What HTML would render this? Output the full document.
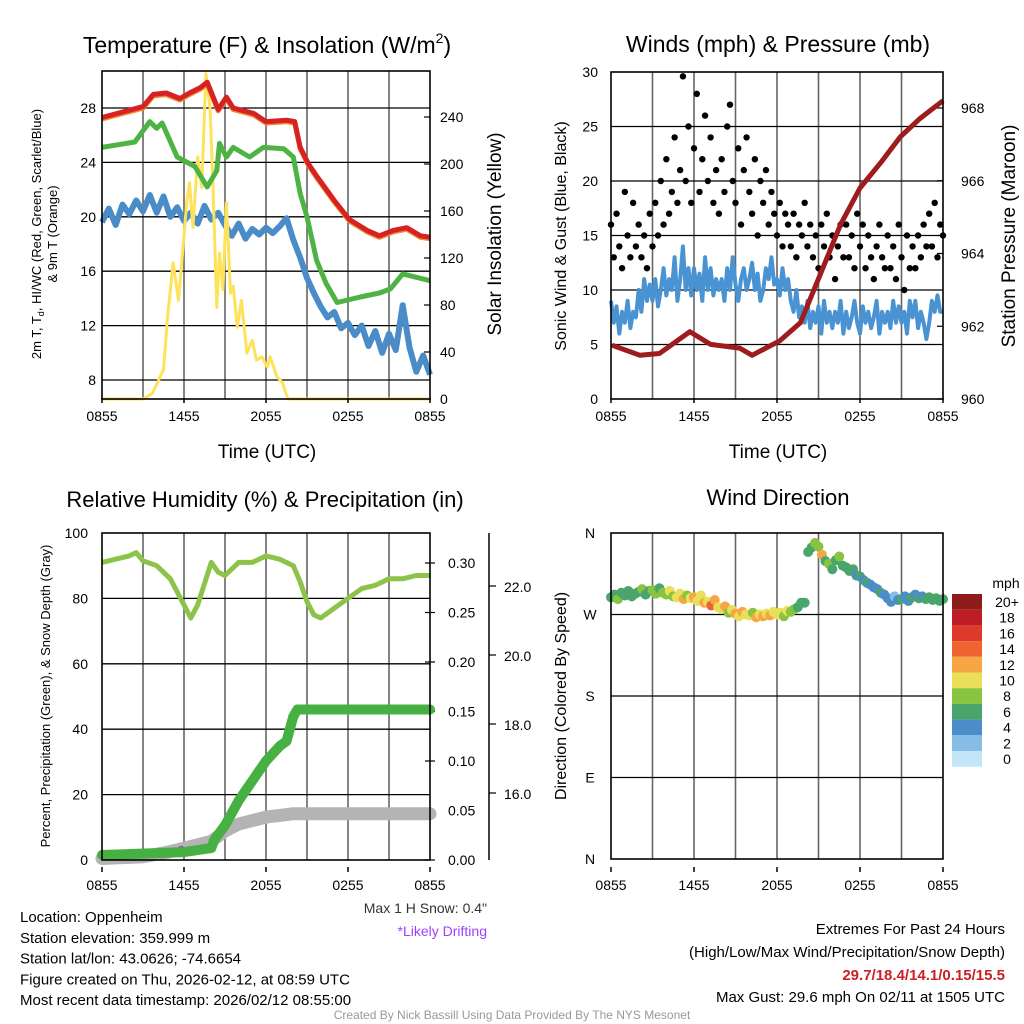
<!DOCTYPE html>
<html><head><meta charset="utf-8"><style>
body{margin:0;background:#fff;}
svg{display:block;font-family:"Liberation Sans",sans-serif;}
</style></head><body>
<svg id="c" width="1024" height="1024" viewBox="0 0 1024 1024"></svg>
<script>
// ---------- DATA ----------
const xTickLabels = ["0855","1455","2055","0255","0855"];
const tempTicks = [8,12,16,20,24,28];
const insolTicks = [0,40,80,120,160,200,240];
const windTicks = [0,5,10,15,20,25,30];
const presTicks = [960,962,964,966,968];
const rhTicks = [0,20,40,60,80,100];
const precipTicks = [0,0.05,0.10,0.15,0.20,0.25,0.30];
const snowTicks = [16,18,20,22];
const dirTicks = ["N","E","S","W","N"];

const redT = [0,3,3.75,4.7,5.7,6.4,7.2,7.7,8.5,9.1,9.6,11.1,12,13.5,14.1,14.5,15.1,15.7,17,18.1,19.4,20.3,21.3,22.3,23.3,24];
const redV = [27.3,28.1,29.0,29.1,28.7,29.1,29.5,29.9,27.9,28.8,28.0,27.6,27.0,27.1,27.0,25.1,23.9,23.0,21.2,19.8,19.0,18.6,19.0,19.2,18.6,18.5];
const greenT = [0,2.4,3.5,4.0,4.4,5.5,6.8,7.7,8.4,8.6,9.1,9.6,10.8,11.8,13.3,14,14.5,15,15.7,16.4,17.2,18.9,20.3,21.1,22,24];
const greenV = [25.1,25.5,27.0,26.5,26.9,24.4,23.7,22.2,23.4,25.4,24.4,25.1,24.4,25.1,25.0,24.4,21.7,20.0,16.8,15.1,13.7,14.1,14.4,14.7,15.8,15.3];
const blueV = [19.6,20.6,19.4,20.9,20.2,21.2,20.4,21.6,20.3,21.5,20.0,20.7,19.7,20.3,19.5,20.8,19.8,20.3,19.4,18.6,19.5,18.4,19.1,18.7,19.2,18.8,19.3,19.9,18.3,17.0,15.5,14.4,13.4,12.6,13.0,11.8,12.2,11.3,12.0,10.5,11.6,10.0,11.4,10.2,13.5,10.4,8.6,9.8,8.4];
const insT = [0,3.0,3.7,4.5,4.8,5.2,5.6,5.85,6.2,6.4,6.65,7.0,7.3,7.6,7.9,8.1,8.4,8.6,8.85,9.1,9.4,9.6,9.9,10.2,10.6,11.0,11.3,11.7,12.1,12.3,12.8,13.2,13.6,24];
const insV = [0,0,5,25,70,116,84,118,167,184,146,206,180,277,248,189,78,124,93,167,90,96,61,84,39,50,33,36,27,36,19,14,0,0];

const gustV = [16,13,17,14,12, 19,15,13,18,14, 16,13,15,12,17, 14,18,15,20,16, 22,17,19,24,18, 21,29.6,20,25,18, 23,28,19,22,26, 20,24,18,21,17, 22,19,25,27,20, 18,23,16,21,24, 19,17,22,15,20, 18,21,16,19,17, 15,18,14,17,16, 14,17,13,16,15, 18,14,16,13,15, 12,16,14,17,13, 15,11,14,16,13, 16,13,15,12,17, 14,16,12,15,13, 11,14,16,13,12, 15,12,14,11,16, 13,10,15,12,14, 12,15,13,16,14, 17,14,18,13,16, 15];
const windV = [9,7,8.5,6,8, 7,9,6.5,8,7.5, 10,8,11,9,10.5, 9,11,8.5,10,12, 9.5,11,10,13,9, 11,14,10,12,9.5, 12,10,11.5,9,13, 10,12,9.5,11,10, 11,9,12,10,13, 10.5,9,11,12,10, 11,12.5,10,11.5,9, 10,12,11,13,10.5, 11,9.5,12,10,11, 9,8,10,7.5,8.5, 7,9,6.5,8,7, 8.5,6,9,7,8, 6.5,8,7,9,6, 8,6.5,7.5,9,7, 6,8.5,7,8,6.5, 7.5,9,6,8,7, 8,6.5,9,7,8.5, 7,8,6,9,7.5, 9,6.5,8,7,5.5, 7,9,8,9.5,8, 8];
const presT = [0.07,2.1,3.5,5.7,7.2,9.3,10.2,12.2,13.7,15.1,16.6,18,19.5,20.9,22.3,24];
const presV = [961.48,961.2,961.25,961.85,961.5,961.4,961.2,961.6,962.1,963.4,964.8,965.8,966.5,967.2,967.7,968.2];

const rhT = [0,1,2,2.5,3,4,5,6,6.5,7,8,8.5,9,10,11,12,13,14,14.5,15,15.5,16,17,18,19,20,21,22,23,24];
const rhV = [91,92,93,94,91.5,90,86,78,74,78,91,88,87,91,91,93,92,90,85,79,75,74,77,80,83,84,86,86,87,87];
const prT = [0,6,8,8.2,9,10,11,12,13,13.5,14,14.3,24];
const prV = [0.005,0.008,0.012,0.02,0.035,0.06,0.08,0.10,0.115,0.12,0.145,0.152,0.152];
const snT = [0,3,5,6.5,8,9,10,11,12,13,14,24];
const snV = [14.1,14.15,14.3,14.45,14.6,14.9,15.1,15.2,15.3,15.35,15.4,15.4];

const dirV = [289,292,287,294, 291,296,290,293, 295,298,292,296, 297,293,299,294, 292,296,290,289, 293,287,291,288, 289,285,291,283, 284,280,286,278, 276,279,272,275, 271,268,273,270, 269,272,267,270, 268,271,269,273, 270,272,268,274, 273,276,278,283, 283,339,344,349, 345,336,329,326, 320,330,334,324, 322,318,320,313, 312,308,305,303, 300,298,294,292, 288,284,290,286, 287,290,285,289, 292,288,290,287, 289,286,288,285, 287];
const spdV = [7,6.5,8,7, 6,7,7.5,6.5, 7,8,6,7.5, 8,9,7,8.5, 9.5,10,9,11, 10,12,9.5,11, 12,10.5,11,13, 11,14,12,10, 10,12,9.5,11, 12,10,13,11, 11,9.5,12,10.5, 13,11,12,10, 11,10,9.5,10, 9,8.5,7.5,7, 7,6,7.5,8.5, 9,12,7,8, 7.5,6.5,8,7, 6,7,6.5,5.5, 6,5.5,6,5, 5.5,5,6,5.5, 4,5,3.5,5.5, 6,5,4,6, 5,6.5,4.5,7, 7,6.5,7.5,7, 7];
const cbLabels = ["20+","18","16","14","12","10","8","6","4","2","0"];
const cbColors = ["#8e1a1c","#bd1e26","#dd3a2c","#ee6330","#f7a644","#e9df59","#88c440","#4aa56c","#4a8dc8","#86bde6","#c2e5f8"];

// ---------- HELPERS ----------
const svg = document.getElementById('c');
const NS = 'http://www.w3.org/2000/svg';
function mk(tag, attrs, parent){const e=document.createElementNS(NS,tag);for(const k in attrs)e.setAttribute(k,attrs[k]);(parent||svg).appendChild(e);return e;}
function txt(s,x,y,size,anchor,parent,extra){const e=mk('text',Object.assign({x:x,y:y,'font-size':size,'text-anchor':anchor||'middle',fill:'#000'},extra||{}),parent);e.textContent=s;return e;}
function lin(d0,d1,r0,r1){return v=>r0+(v-d0)*(r1-r0)/(d1-d0);}
function pathOf(ts,vs,xs,ys){return ts.map((t,i)=>(i?'L':'M')+xs(t).toFixed(1)+','+ys(vs[i]).toFixed(1)).join('');}

function frame(g,x0,x1,y0,y1,hLines){
  for(let h=3;h<24;h+=3){const x=lin(0,24,x0,x1)(h);const l=mk('line',{x1:x,x2:x,y1:y0,y2:y1,stroke:'#666','stroke-width':1.6},g);}
  hLines.forEach(y=>{const l=mk('line',{x1:x0,x2:x1,y1:y,y2:y,stroke:'#000','stroke-width':1.3},g);});
}
function border(g,x0,x1,y0,y1){const r=mk('rect',{x:x0,y:y0,width:x1-x0,height:y1-y0,fill:'none',stroke:'#000','stroke-width':1.6},g);}
function xLabels(g,x0,x1,y){const xs=lin(0,24,x0,x1);xTickLabels.forEach((s,i)=>{const t=txt(s,xs(i*6),y,14,'middle',g);
 mk('line',{x1:xs(i*6),x2:xs(i*6),y1:y-18,y2:y-23,stroke:'#000','stroke-width':1.5},g);});}
function group(name){const g=mk('g',{});return g;}

// ---------- PANEL 1 ----------
(function(){
 const g=group('temperature-panel');
 const x0=102,x1=430,y0=71,y1=399;
 const xs=lin(0,24,x0,x1), yT=lin(8,28,380,108), yI=lin(0,240,399,117);
 frame(g,x0,x1,y0,y1,tempTicks.map(yT));
 tempTicks.forEach(v=>{const t=txt(String(v),96,yT(v)+5,14,'end',g);});
 insolTicks.forEach(v=>{const t=txt(String(v),440,yI(v)+5,14,'start',g);
   mk('line',{x1:x1,x2:x1-6,y1:yI(v),y2:yI(v),stroke:'#000','stroke-width':1.2},g);});
 const blueT=blueV.map((v,i)=>i*0.5);
 let p;
 p=mk('path',{d:pathOf(blueT,blueV,xs,yT),fill:'none',stroke:'#4a8cc8','stroke-width':6,'stroke-linejoin':'round'},g);
 p=mk('path',{d:pathOf(insT,insV,xs,yI),fill:'none',stroke:'#fde25a','stroke-width':3,'stroke-linejoin':'round'},g);
 p=mk('path',{d:pathOf(greenT,greenV,xs,yT),fill:'none',stroke:'#4db443','stroke-width':5,'stroke-linejoin':'round'},g);
 p=mk('path',{d:pathOf(redT,redV,xs,v=>yT(v)+1.5),fill:'none',stroke:'#f28a36','stroke-width':5,'stroke-linejoin':'round'},g);
 p=mk('path',{d:pathOf(redT,redV,xs,yT),fill:'none',stroke:'#d62222','stroke-width':5,'stroke-linejoin':'round'},g);
 border(g,x0,x1,y0,y1);
 xLabels(g,x0,x1,421);
 let t=mk('text',{x:267,y:53,'font-size':23,'text-anchor':'middle'},g);t.innerHTML='Temperature (F) &amp; Insolation (W/m<tspan font-size="14" dy="-10">2</tspan><tspan dy="10">)</tspan>';
 t=txt('Time (UTC)',267,458,19,'middle',g);
 t=mk('text',{x:0,y:0,'font-size':13,'text-anchor':'middle',transform:'translate(41,234) rotate(-90)'},g);t.innerHTML='2m T, T<tspan font-size="9" dy="3">d</tspan><tspan dy="-3">, HI/WC (Red, Green, Scarlet/Blue)</tspan>';
 t=txt('& 9m T (Orange)',0,0,13,'middle',g,{transform:'translate(57,234) rotate(-90)'});
 t=txt('Solar Insolation (Yellow)',0,0,19,'middle',g,{transform:'translate(501,234) rotate(-90)'});
})();

// ---------- PANEL 2 ----------
(function(){
 const g=group('winds-panel');
 const x0=611,x1=943,y0=72,y1=399;
 const xs=lin(0,24,x0,x1), yW=lin(0,30,399,72), yP=lin(960,968,399,108);
 frame(g,x0,x1,y0,y1,[5,10,15,20,25].map(yW));
 windTicks.forEach(v=>{const t=txt(String(v),598,yW(v)+5,14,'end',g);});
 presTicks.forEach(v=>{const t=txt(String(v),961,yP(v)+5,14,'start',g);
   mk('line',{x1:x1,x2:x1-6,y1:yP(v),y2:yP(v),stroke:'#000','stroke-width':1.2},g);});
 const wT=windV.map((v,i)=>i*0.2);
 let p=mk('path',{d:pathOf(wT,windV,xs,yW),fill:'none',stroke:'#4a93d2','stroke-width':4,'stroke-linejoin':'round'},g);
 gustV.forEach((v,i)=>{const c=mk('circle',{cx:xs(i*0.2),cy:yW(v),r:3.2,fill:'#000'},g);});
 p=mk('path',{d:pathOf(presT,presV,xs,yP),fill:'none',stroke:'#9e1b1e','stroke-width':5,'stroke-linejoin':'round'},g);
 border(g,x0,x1,y0,y1);
 xLabels(g,x0,x1,421);
 let t=txt('Winds (mph) & Pressure (mb)',778,52,23,'middle',g);
 t=txt('Time (UTC)',778,458,19,'middle',g);
 t=txt('Sonic Wind & Gust (Blue, Black)',0,0,16,'middle',g,{transform:'translate(566,236) rotate(-90)'});
 t=txt('Station Pressure (Maroon)',0,0,19,'middle',g,{transform:'translate(1015,236) rotate(-90)'});
})();

// ---------- PANEL 3 ----------
(function(){
 const g=group('humidity-panel');
 const x0=102,x1=430,y0=533,y1=860;
 const xs=lin(0,24,x0,x1), yR=lin(0,100,860,533), yPr=lin(0,0.30,860,563), yS=lin(16,22,793,586);
 frame(g,x0,x1,y0,y1,[20,40,60,80].map(yR));
 rhTicks.forEach(v=>{const t=txt(String(v),88,yR(v)+5,14,'end',g);});
 precipTicks.forEach(v=>{const t=txt(v.toFixed(2),448,yPr(v)+5,14,'start',g);
   mk('line',{x1:x1-5,x2:x1+5,y1:yPr(v),y2:yPr(v),stroke:'#000','stroke-width':1.2},g);});
 mk('line',{x1:489,x2:489,y1:533,y2:860,stroke:'#000','stroke-width':1.5},g);
 snowTicks.forEach(v=>{const t=txt(v.toFixed(1),504,yS(v)+6,14,'start',g);
   mk('line',{x1:489,x2:496,y1:yS(v),y2:yS(v),stroke:'#000','stroke-width':1.2},g);});
 let p=mk('path',{d:pathOf(snT,snV,xs,yS),fill:'none',stroke:'#b4b4b4','stroke-width':13,'stroke-linecap':'round','stroke-linejoin':'round'},g);
 let c=mk('circle',{cx:xs(5.8),cy:yS(14.35),r:4,fill:'#9a3ee0'},g);
 p=mk('path',{d:pathOf(prT,prV,xs,yPr),fill:'none',stroke:'#46b043','stroke-width':10,'stroke-linecap':'round','stroke-linejoin':'round'},g);
 p=mk('path',{d:pathOf(rhT,rhV,xs,yR),fill:'none',stroke:'#8cc44a','stroke-width':5,'stroke-linejoin':'round'},g);
 border(g,x0,x1,y0,y1);
 xLabels(g,x0,x1,890);
 let t=txt('Relative Humidity (%) & Precipitation (in)',265,507,22,'middle',g);
 t=txt('Percent, Precipitation (Green), & Snow Depth (Gray)',0,0,13,'middle',g,{transform:'translate(50,696) rotate(-90)'});
})();

// ---------- PANEL 4 ----------
(function(){
 const g=group('wind-direction-panel');
 const x0=611,x1=943,y0=533,y1=859;
 const xs=lin(0,24,x0,x1), yD=lin(0,360,859,533);
 frame(g,x0,x1,y0,y1,[90,180,270].map(yD));
 dirTicks.forEach((s,i)=>{const t=txt(s,590,yD(i*90)+5,14,'middle',g);});
 dirV.forEach((d,i)=>{const b=Math.min(10,Math.floor(spdV[i]/2));const c=mk('circle',{cx:xs(i*0.25),cy:yD(d),r:5,fill:cbColors[10-b]},g);});
 border(g,x0,x1,y0,y1);
 xLabels(g,x0,x1,890);
 let t=txt('Wind Direction',778,505,22,'middle',g);
 t=txt('Direction (Colored By Speed)',0,0,16,'middle',g,{transform:'translate(566,696) rotate(-90)'});
 const cb=group('speed-colorbar');
 t=txt('mph',1006,588,14,'middle',cb);
 cbLabels.forEach((s,i)=>{const y=594+i*15.7;const r=mk('rect',{x:952,y:y,width:30,height:15.7,fill:cbColors[i]},cb);
   const tl=txt(s,1007,y+13,14,'middle',cb);});
})();

// ---------- FOOTER TEXT ----------
(function(){
 const g=group('station-info');
 ["Location: Oppenheim","Station elevation: 359.999 m","Station lat/lon: 43.0626; -74.6654","Figure created on Thu, 2026-02-12, at 08:59 UTC","Most recent data timestamp: 2026/02/12 08:55:00"].forEach((s,i)=>{const t=txt(s,20,922+i*20.8,15,'start',g);});
 let t=txt('Max 1 H Snow: 0.4"',487,913,14,'end',g,{fill:'#333'});
 t=txt('*Likely Drifting',487,936,14,'end',g,{fill:'#a040ff'});
 const e=group('extremes');
 t=txt('Extremes For Past 24 Hours',1005,934,15,'end',e);
 t=txt('(High/Low/Max Wind/Precipitation/Snow Depth)',1005,957,15,'end',e);
 t=txt('29.7/18.4/14.1/0.15/15.5',1005,980,15,'end',e,{fill:'#cc2026','font-weight':'bold'});
 t=txt('Max Gust: 29.6 mph On 02/11 at 1505 UTC',1005,1002,15,'end',e);
 t=txt('Created By Nick Bassill Using Data Provided By The NYS Mesonet',512,1019,12,'middle',svg,{fill:'#999'});
})();
</script>
</body></html>
